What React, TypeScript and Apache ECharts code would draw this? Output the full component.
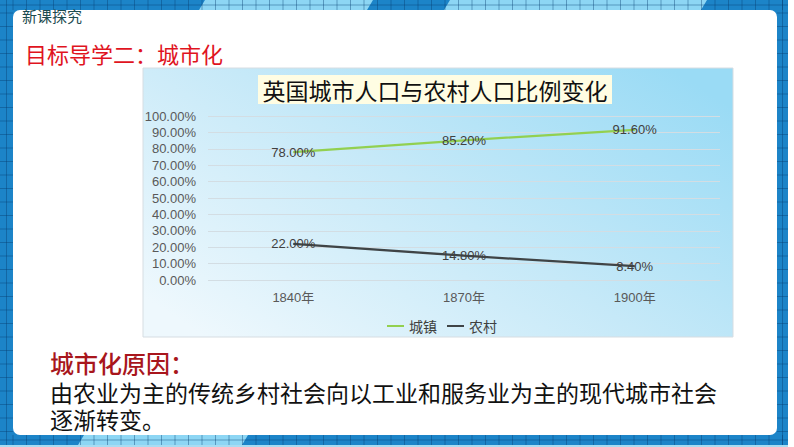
import React, { useEffect, useRef } from 'react';
import * as echarts from 'echarts';

const years = ['1840年', '1870年', '1900年'];
const urban = [78.0, 85.2, 91.6];
const rural = [22.0, 14.8, 8.4];
const seriesNames = ['城镇', '农村'];
const seriesColors = ['#92d050', '#3f4446'];
const chartTitle = '英国城市人口与农村人口比例变化';
const headerLabel = '新课探究';
const sectionTitle = '目标导学二：城市化';
const reasonTitle = '城市化原因：';
const reasonLines = [
  '由农业为主的传统乡村社会向以工业和服务业为主的现代城市社会',
  '逐渐转变。',
];

const SANS = '"Liberation Sans", Arial, "Noto Sans CJK SC", sans-serif';
const CJK = '"Noto Sans CJK SC", sans-serif';

function frameGraphics(): any[] {
  const g: any[] = [];
  const dark = '#1c84c8';
  const light = '#8dd6f4';
  const gridDark = 'rgba(8,60,110,0.4)';
  g.push({ type: 'rect', z: -20, shape: { x: 0, y: 0, width: 788, height: 445 }, style: { fill: dark } });
  g.push({ type: 'rect', z: -20, shape: { x: 0, y: 445, width: 788, height: 2 }, style: { fill: '#a9dcf2' } });
  g.push({ type: 'polygon', z: -19, shape: { points: [[199, 10], [205, 0], [373, 0], [367, 10]] }, style: { fill: light } });
  g.push({ type: 'polygon', z: -19, shape: { points: [[444, 10], [450, 0], [707, 0], [701, 10]] }, style: { fill: light } });
  g.push({ type: 'polygon', z: -19, shape: { points: [[78, 445], [84, 435], [248, 435], [242, 445]] }, style: { fill: light } });
  for (let x = 13; x < 788; x += 13.5) {
    g.push({ type: 'line', z: -18, shape: { x1: x, y1: 0, x2: x, y2: 10 }, style: { stroke: gridDark, lineWidth: 1 } });
    g.push({ type: 'line', z: -18, shape: { x1: x, y1: 435, x2: x, y2: 445 }, style: { stroke: gridDark, lineWidth: 1 } });
  }
  for (let y = 13; y < 445; y += 13.5) {
    g.push({ type: 'line', z: -18, shape: { x1: 0, y1: y, x2: 13, y2: y }, style: { stroke: gridDark, lineWidth: 1 } });
    g.push({ type: 'line', z: -18, shape: { x1: 777, y1: y, x2: 788, y2: y }, style: { stroke: gridDark, lineWidth: 1 } });
  }
  g.push({ type: 'line', z: -18, shape: { x1: 6.5, y1: 0, x2: 6.5, y2: 445 }, style: { stroke: gridDark, lineWidth: 1 } });
  g.push({ type: 'line', z: -18, shape: { x1: 782.5, y1: 0, x2: 782.5, y2: 445 }, style: { stroke: gridDark, lineWidth: 1 } });
  g.push({ type: 'line', z: -18, shape: { x1: 0, y1: 5, x2: 788, y2: 5 }, style: { stroke: gridDark, lineWidth: 1 } });
  g.push({ type: 'line', z: -18, shape: { x1: 0, y1: 440, x2: 788, y2: 440 }, style: { stroke: gridDark, lineWidth: 1 } });
  g.push({ type: 'rect', z: -17, shape: { x: 13, y: 10, width: 764, height: 425, r: 7 }, style: { fill: '#ffffff' } });
  return g;
}

export default function App() {
  const ref = useRef<HTMLDivElement>(null);
  useEffect(() => {
    if (!ref.current) return;
    const chart = echarts.init(ref.current, null, { renderer: 'svg' });
    const graphics: any[] = [
      ...frameGraphics(),
      {
        type: 'rect', z: -16,
        shape: { x: 143, y: 68, width: 590, height: 269 },
        style: {
          fill: new echarts.graphic.LinearGradient(0, 0.85, 1, 0.15, [
            { offset: 0, color: '#eef8fd' },
            { offset: 0.5, color: '#c6e9f8' },
            { offset: 1, color: '#9adbf5' },
          ]),
          stroke: '#d6dde2', lineWidth: 1,
        },
      },
      { type: 'rect', z: -15, shape: { x: 258, y: 75, width: 354, height: 29 }, style: { fill: '#fffde3' } },
      {
        type: 'text', z: 10, x: 435, y: 90,
        style: { text: chartTitle, fontFamily: CJK, fontSize: 23, fill: '#111111', align: 'center', verticalAlign: 'middle' },
      },
      {
        type: 'text', z: 10, x: 22, y: 15,
        style: { text: headerLabel, fontFamily: CJK, fontSize: 15, fill: '#1d4b4f', verticalAlign: 'middle' },
      },
      {
        type: 'text', z: 10, x: 25, y: 53,
        style: { text: sectionTitle, fontFamily: CJK, fontSize: 22, fill: '#e0141e', verticalAlign: 'middle' },
      },
      {
        type: 'text', z: 10, x: 50, y: 362,
        style: { text: reasonTitle, fontFamily: CJK, fontSize: 24, fontWeight: 500, fill: '#a8161c', verticalAlign: 'middle' },
      },
      ...reasonLines.map((t, i) => ({
        type: 'text', z: 10, x: 50, y: 394 + i * 27,
        style: { text: t, fontFamily: SANS, fontSize: 23, lineHeight: 24, fill: '#111111', verticalAlign: 'middle' },
      })),
    ];
    const mkSeries = (name: string, data: number[], color: string) => ({
      name,
      type: 'line',
      data,
      symbol: 'circle',
      symbolSize: 1,
      lineStyle: { color, width: 2.25 },
      itemStyle: { color },
      label: {
        show: true,
        position: 'inside',
        formatter: (p: any) => Number(p.value).toFixed(2) + '%',
        fontFamily: SANS,
        fontSize: 13,
        color: '#404040',
      },
      z: 5,
    });
    chart.setOption({
      animation: false,
      backgroundColor: 'transparent',
      graphic: graphics,
      grid: { left: 208, right: 74, top: 116, bottom: 167 },
      legend: {
        left: 382, top: 314,
        icon: 'rect', itemWidth: 17, itemHeight: 2, itemGap: 10,
        textStyle: { fontFamily: CJK, fontSize: 14, color: '#404040' },
        data: seriesNames,
      },
      xAxis: {
        type: 'category',
        data: years,
        boundaryGap: true,
        axisLine: { show: false },
        axisTick: { show: false },
        axisLabel: { fontFamily: SANS, fontSize: 13, color: '#595959', margin: 11 },
      },
      yAxis: {
        type: 'value',
        min: 0, max: 100, interval: 10,
        axisLine: { show: false },
        axisTick: { show: false },
        splitLine: { lineStyle: { color: '#d3dde3', width: 1 } },
        axisLabel: {
          fontFamily: SANS, fontSize: 13, color: '#595959', margin: 12,
          formatter: (v: number) => v.toFixed(2) + '%',
        },
      },
      series: [
        mkSeries(seriesNames[0], urban, seriesColors[0]),
        mkSeries(seriesNames[1], rural, seriesColors[1]),
      ],
    });
    return () => chart.dispose();
  }, []);
  return (
    <div
      ref={ref}
      style={{ position: 'fixed', left: 0, top: 0, width: 794, height: 447, background: '#ffffff' }}
    />
  );
}
